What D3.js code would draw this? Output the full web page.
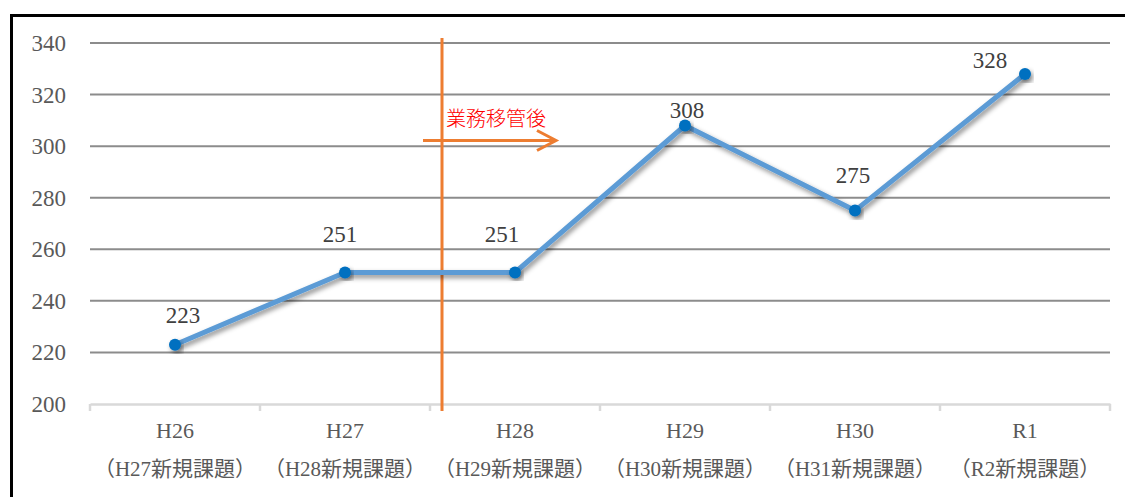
<!DOCTYPE html>
<html><head><meta charset="utf-8">
<script src="https://cdn.jsdelivr.net/npm/d3@7"></script>
<style>
html,body{margin:0;padding:0;background:#fff;}
svg{display:block;}
</style></head>
<body>
<svg id="chart" width="1125" height="497"></svg>
<script>
const categories = ["H26","H27","H28","H29","H30","R1"];
const subLabels = ["（H27新規課題）","（H28新規課題）","（H29新規課題）","（H30新規課題）","（H31新規課題）","（R2新規課題）"];
const values = [223,251,251,308,275,328];
const yTicks = [200,220,240,260,280,300,320,340];
const annotationText = "業務移管後";

const SERIF = "Liberation Serif";
const svg = d3.select("#chart");

// frame
svg.append("rect").attr("x",11.5).attr("y",15.5).attr("width",1130).attr("height",500)
  .attr("fill","none").attr("stroke","#000").attr("stroke-width",3);

const x = d3.scaleBand().domain(categories).range([90,1110]);
const y = d3.scaleLinear().domain([200,340]).range([404,43]);

const defs = svg.append("defs");
const f = defs.append("filter").attr("id","sh").attr("x","-20%").attr("y","-20%").attr("width","140%").attr("height","140%");
f.append("feDropShadow").attr("dx",2).attr("dy",3).attr("stdDeviation",2.5).attr("flood-color","#000").attr("flood-opacity",0.45);

// gridlines
svg.append("g").selectAll("line").data(yTicks.filter(d=>d>200)).join("line")
  .attr("x1",90).attr("x2",1110).attr("y1",d=>y(d)).attr("y2",d=>y(d))
  .attr("stroke","#8c8c8c").attr("stroke-width",2);

// y labels
svg.append("g").selectAll("text").data(yTicks).join("text")
  .attr("font-family",SERIF)
  .attr("x",66).attr("y",d=>y(d)).attr("dy","0.35em").attr("text-anchor","end")
  .attr("font-size",23).attr("fill","#595959").text(d=>d);

// x axis
const xa = svg.append("g").attr("transform","translate(0,404)")
  .call(d3.axisBottom(x).tickSize(0).tickFormat(""));
xa.select(".domain").attr("stroke","#d9d9d9").attr("stroke-width",2.5);
const bounds = categories.map(c=>x(c)).concat([x(categories[categories.length-1])+x.bandwidth()]);
svg.append("g").selectAll("line").data(bounds).join("line")
  .attr("x1",d=>d).attr("x2",d=>d).attr("y1",404).attr("y2",411)
  .attr("stroke","#d9d9d9").attr("stroke-width",2.5);

const xl = svg.append("g");
xl.selectAll("text.l1").data(categories).join("text").attr("class","l1")
  .attr("font-family",SERIF)
  .attr("x",d=>x(d)+x.bandwidth()/2).attr("y",438).attr("text-anchor","middle")
  .attr("font-size",22).attr("fill","#595959").text(d=>d);
xl.selectAll("text.l2").data(subLabels).join("text").attr("class","l2")
  .attr("font-family",SERIF + ", Noto Sans CJK JP")
  .attr("x",(d,i)=>x(categories[i])+x.bandwidth()/2).attr("y",476).attr("text-anchor","middle")
  .attr("font-size",21).attr("fill","#595959").text(d=>d);

// orange vertical line & arrow
const vx = x(categories[2]) + 12;
svg.append("line").attr("x1",vx).attr("x2",vx).attr("y1",38).attr("y2",411)
  .attr("stroke","#ed7d31").attr("stroke-width",3);
svg.append("line").attr("x1",vx-19).attr("x2",556).attr("y1",140.5).attr("y2",140.5)
  .attr("stroke","#ed7d31").attr("stroke-width",3);
svg.append("path").attr("d","M537,130.5 L556,140.5 L537,150.5").attr("fill","none")
  .attr("stroke","#ed7d31").attr("stroke-width",3);
svg.append("text").attr("x",496).attr("y",126).attr("text-anchor","middle")
  .attr("font-family","Noto Sans CJK JP").attr("font-size",20).attr("font-weight",300)
  .attr("fill","#ff0000").text(annotationText);

// line
const cx = d=>x(d)+x.bandwidth()/2;
const line = d3.line().x((d,i)=>cx(categories[i])).y(d=>y(d));
svg.append("path").datum(values).attr("d",line).attr("fill","none")
  .attr("stroke","#5b9bd5").attr("stroke-width",5).attr("stroke-linejoin","round")
  .attr("filter","url(#sh)");
svg.append("g").selectAll("circle").data(values).join("circle")
  .attr("cx",(d,i)=>cx(categories[i])).attr("cy",d=>y(d)).attr("r",6)
  .attr("fill","#0070c0").attr("filter","url(#sh)");

// data labels (label placement offsets as in the original chart)
const labelShift = [[8,-22],[-5,-30],[-13,-30],[2,-8],[-2,-28],[-35,-6]];
svg.append("g").selectAll("text").data(values).join("text")
  .attr("font-family",SERIF)
  .attr("x",(d,i)=>cx(categories[i])+labelShift[i][0]).attr("y",(d,i)=>y(d)+labelShift[i][1])
  .attr("text-anchor","middle")
  .attr("font-size",23).attr("fill","#404040").text(d=>d);
</script>
</body></html>
